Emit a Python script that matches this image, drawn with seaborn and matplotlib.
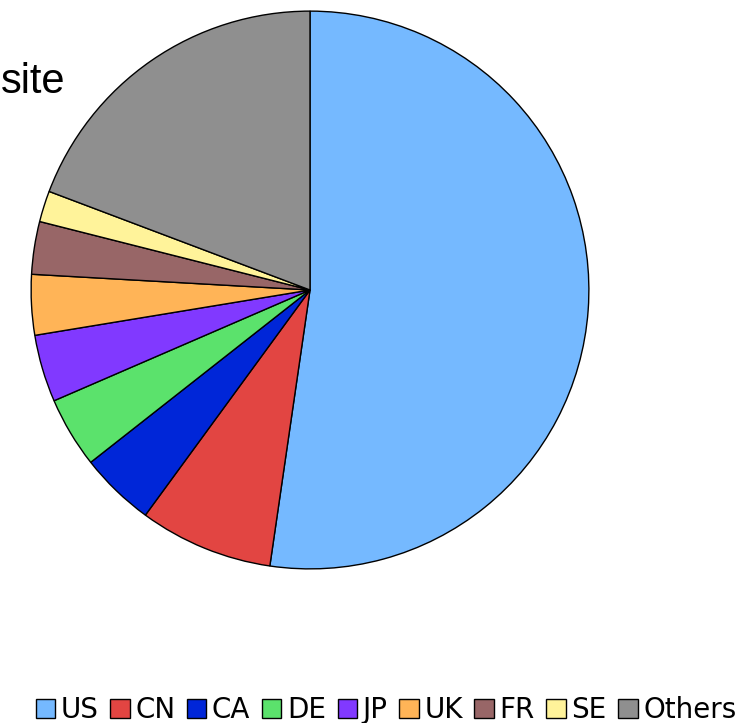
import matplotlib
matplotlib.use("Agg")
import matplotlib.pyplot as plt
import seaborn as sns
from matplotlib.patches import Patch

# share of items per country (percent)
countries = ['US', 'CN', 'CA', 'DE', 'JP', 'UK', 'FR', 'SE', 'Others']
shares = [52.3, 7.75, 4.35, 4.1, 3.9, 3.5, 3.05, 1.8, 19.25]
colors = ['#75B9FF', '#E24542', '#0026D8', '#5BE26C', '#8139FF',
          '#FFB457', '#986667', '#FFF39A', '#8F8F8F']

sns.set_theme(style='white')
plt.rcParams['font.family'] = ['DejaVu Sans']
plt.rcParams['text.color'] = 'black'

fig = plt.figure(figsize=(7.39, 7.23), dpi=100)
ax = fig.add_axes([30 / 739, (723 - 570) / 723, 560 / 739, 560 / 723])

ax.pie(shares, colors=colors, startangle=90, counterclock=False,
       wedgeprops=dict(edgecolor='black', linewidth=1.0))
ax.set_xlim(-1.004, 1.004)
ax.set_ylim(-1.004, 1.004)
ax.set_aspect('equal')

# title, mostly cut off at the left edge in the original
fig.text(1 / 739, 1 - 82 / 723, 'site', ha='left', va='center',
         fontsize=30, family='Liberation Sans', color='black')

handles = [Patch(facecolor=c, edgecolor='black', linewidth=1.0) for c in colors]
fig.legend(handles, countries, loc='center', bbox_to_anchor=(386 / 739, 1 - 710 / 723),
           ncol=9, frameon=False, fontsize=20, handlelength=0.7, handleheight=0.7,
           handletextpad=0.2, columnspacing=0.42, borderaxespad=0, labelcolor='black')

fig.savefig('out.png', dpi=100)
